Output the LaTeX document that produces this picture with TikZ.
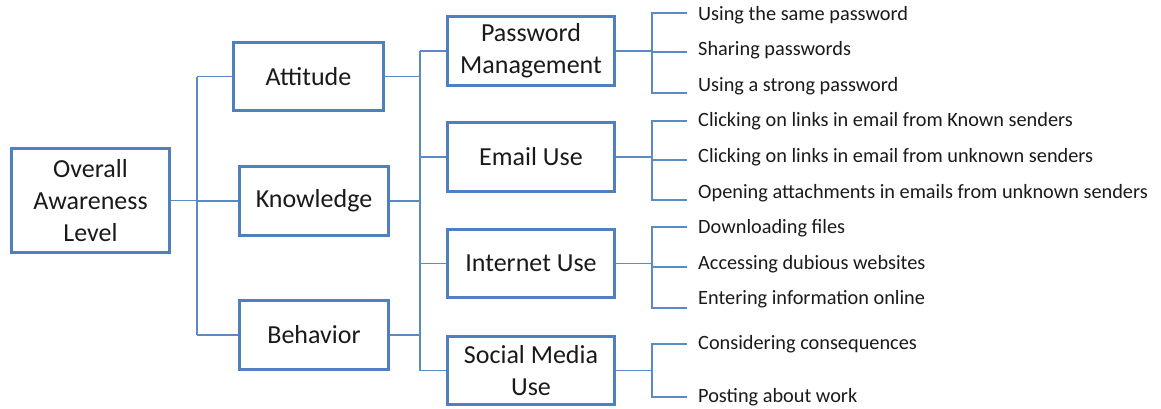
\documentclass[tikz,border=0pt]{standalone}
\usepackage{fontspec}
\setmainfont{Carlito}
\definecolor{boxblue}{HTML}{4F7FBF}
\definecolor{linkblue}{HTML}{5B8AC6}
\definecolor{ink}{HTML}{1A1A1A}
\tikzset{
  box/.style={draw=boxblue, line width=2.8pt, fill=white, inner sep=0pt,
    align=center, text=ink, font=\fontsize{26}{32}\selectfont},
  leaf/.style={anchor=west, inner sep=0pt, text=ink,
    font=\fontsize{20.3}{24}\selectfont},
  link/.style={draw=linkblue, line width=1.3pt}
}
\begin{document}
\begin{tikzpicture}[x=1pt,y=-1pt]
\useasboundingbox (0,0) rectangle (1161,408);

% bus lines
\coordinate (lbus) at (197,0);
\coordinate (mbus) at (420,0);
\coordinate (rbus) at (652,0);

% main boxes
\node[box, minimum width=158pt, minimum height=104pt] (ov) at (90.5,200.5) {Overall\\Awareness\\Level};
\node[box, minimum width=150pt, minimum height=68pt] (att) at (308.5,76.5) {Attitude};
\node[box, minimum width=149pt, minimum height=69pt] (kn) at (314,201) {Knowledge};
\node[box, minimum width=149pt, minimum height=69pt] (bh) at (314,335) {Behavior};

\node[box, minimum width=167pt, minimum height=69pt] (pm) at (531,51) {Password\\Management};
\node[box, minimum width=167pt, minimum height=69pt] (em) at (531,157) {Email Use};
\node[box, minimum width=167pt, minimum height=68pt] (iu) at (531,263.5) {Internet Use};
\node[box, minimum width=167pt, minimum height=68pt] (sm) at (531,370.5) {Social Media\\Use};

% leaf labels
\node[leaf] (p1) at (698,15) {Using the same password};
\node[leaf] (p2) at (698,50) {Sharing passwords};
\node[leaf] (p3) at (698,86) {Using a strong password};
\node[leaf] (e1) at (698,121) {Clicking on links in email from Known senders};
\node[leaf] (e2) at (698,157) {Clicking on links in email from unknown senders};
\node[leaf] (e3) at (698,193) {Opening attachments in emails from unknown senders};
\node[leaf] (i1) at (698,228) {Downloading files};
\node[leaf] (i2) at (698,264) {Accessing dubious websites};
\node[leaf] (i3) at (698,299) {Entering information online};
\node[leaf] (s1) at (698,344) {Considering consequences};
\node[leaf] (s2) at (698,397) {Posting about work};

% leaf line ends
\coordinate (cp1) at (687,13);
\coordinate (cp2) at (687,52);
\coordinate (cp3) at (687,93);
\coordinate (ce1) at (687,121);
\coordinate (ce2) at (687,160);
\coordinate (ce3) at (687,200);
\coordinate (ci1) at (687,227);
\coordinate (ci2) at (687,267);
\coordinate (ci3) at (687,308);
\coordinate (cs1) at (687,344);
\coordinate (cs2) at (687,397);

% level 1 -> level 2
\draw[link] (ov.east) -- (ov.east -| lbus);
\draw[link] (lbus |- att.west) -- (lbus |- bh.west);
\draw[link] (lbus |- att.west) -- (att.west);
\draw[link] (lbus |- kn.west) -- (kn.west);
\draw[link] (lbus |- bh.west) -- (bh.west);

% level 2 -> level 3
\draw[link] (att.east) -- (att.east -| mbus);
\draw[link] (kn.east) -- (kn.east -| mbus);
\draw[link] (bh.east) -- (bh.east -| mbus);
\draw[link] (mbus |- pm.west) -- (mbus |- sm.west);
\draw[link] (mbus |- pm.west) -- (pm.west);
\draw[link] (mbus |- em.west) -- (em.west);
\draw[link] (mbus |- iu.west) -- (iu.west);
\draw[link] (mbus |- sm.west) -- (sm.west);

% level 3 -> leaves
\foreach \b/\list in {pm/{cp1,cp2,cp3}, em/{ce1,ce2,ce3}, iu/{ci1,ci2,ci3}, sm/{cs1,cs2}}{
  \draw[link] (\b.east) -- (\b.east -| rbus);
  \foreach \c in \list {
    \draw[link] (\b.east -| rbus) |- (\c);
  }
}
\end{tikzpicture}
\end{document}
